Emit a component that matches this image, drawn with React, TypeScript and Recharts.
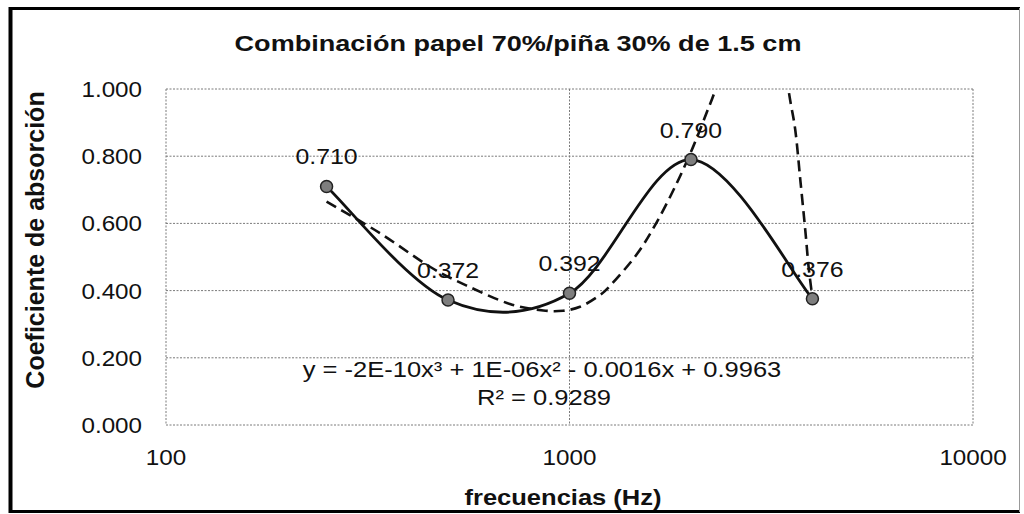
import React from 'react';
import { LineChart, Line, XAxis, YAxis, CartesianGrid } from 'recharts';

// medidas
const frecuencias = [250, 500, 1000, 2000, 4000];
const absorcion = [0.71, 0.372, 0.392, 0.79, 0.376];

// linea de tendencia (se corta arriba de 1.0)
const tendFrecuencias = [250, 339, 451, 556, 712, 861, 964, 1062, 1168, 1260, 1468, 1646, 1845, 2028, 2188, 2317, 2600, 2900, 3250, 3490, 3627, 3733, 3840, 3913, 4000];
const tendValores = [0.665, 0.571, 0.471, 0.415, 0.36, 0.341, 0.34, 0.352, 0.38, 0.414, 0.508, 0.604, 0.72, 0.83, 0.93, 1.01, 1.2, 1.35, 1.25, 0.997, 0.878, 0.729, 0.58, 0.471, 0.378];

const xTicks = [100, 1000, 10000];
const yTicks = [0, 0.2, 0.4, 0.6, 0.8, 1];

const titulo = 'Combinación papel 70%/piña 30% de 1.5 cm';
const ecuacion = 'y = -2E-10x³ + 1E-06x² - 0.0016x + 0.9963';
const r2 = 'R² = 0.9289';

const medidos = frecuencias.map((f, i) => ({ f, v: absorcion[i] }));
const tendencia = tendFrecuencias.map((f, i) => ({ f, v: tendValores[i] }));

const FONT = '"Liberation Sans", Arial, Helvetica, sans-serif';

// suavizado tipo Excel (Catmull-Rom)
const excelSmooth = (context: any) => {
    let pts: number[][] = [];
    return {
        areaStart() {},
        areaEnd() {},
        lineStart() { pts = []; },
        point(x: number, y: number) { pts.push([+x, +y]); },
        lineEnd() {
            if (!pts.length) return;
            context.moveTo(pts[0][0], pts[0][1]);
            for (let i = 0; i < pts.length - 1; i++) {
                const p0 = pts[Math.max(i - 1, 0)];
                const p1 = pts[i];
                const p2 = pts[i + 1];
                const p3 = pts[Math.min(i + 2, pts.length - 1)];
                context.bezierCurveTo(
                    p1[0] + (p2[0] - p0[0]) / 6, p1[1] + (p2[1] - p0[1]) / 6,
                    p2[0] - (p3[0] - p1[0]) / 6, p2[1] - (p3[1] - p1[1]) / 6,
                    p2[0], p2[1]
                );
            }
        },
    };
};

const Txt = ({ x, y, anchor = 'middle', size = 22, bold = false, sx = 1.13, children }: any) => (
    <text
        transform={`translate(${x},${y}) scale(${sx},1)`}
        textAnchor={anchor}
        fontFamily={FONT}
        fontSize={size}
        fontWeight={bold ? 'bold' : 'normal'}
        fill="#111"
    >
        {children}
    </text>
);

const YTick = ({ y, payload }: any) => (
    <Txt x={142} y={y + 8} anchor="end" sx={1.1}>{Number(payload.value).toFixed(3)}</Txt>
);

const XTick = ({ x, payload }: any) => (
    <Txt x={x} y={465} sx={1.1}>{payload.value}</Txt>
);

const ValueLabel = (p: any) => (
    <Txt key={`l${p.index}`} x={p.x} y={p.y - 22}>{Number(p.value).toFixed(3)}</Txt>
);

const App: React.FC = () => {
    return (
        <div style={{ position: 'absolute', left: 0, top: 0, width: 1024, height: 514, background: '#fff' }}>
            <LineChart width={1024} height={514} margin={{ top: 89, right: 51, bottom: 29, left: 0 }}>
                <CartesianGrid stroke="#7a7a7a" strokeDasharray="2 1.5" horizontalValues={yTicks} verticalValues={xTicks} />
                <XAxis
                    type="number"
                    dataKey="f"
                    scale="log"
                    domain={[100, 10000]}
                    ticks={xTicks}
                    allowDataOverflow
                    axisLine={false}
                    tickLine={false}
                    height={60}
                    tick={<XTick />}
                    interval={0}
                />
                <YAxis
                    type="number"
                    domain={[0, 1]}
                    ticks={yTicks}
                    allowDataOverflow
                    axisLine={false}
                    tickLine={false}
                    width={166}
                    tick={<YTick />}
                    interval={0}
                />
                <Line
                    data={tendencia}
                    dataKey="v"
                    type={excelSmooth as any}
                    stroke="#111"
                    strokeWidth={2.6}
                    strokeDasharray="11 6"
                    dot={false}
                    isAnimationActive={false}
                />
                <Line
                    data={medidos}
                    dataKey="v"
                    type={excelSmooth as any}
                    stroke="#111"
                    strokeWidth={2.8}
                    dot={{ r: 6, fill: '#7e7e7e', stroke: '#222', strokeWidth: 1.5 }}
                    label={ValueLabel}
                    isAnimationActive={false}
                />
            </LineChart>
            <svg width={1024} height={514} style={{ position: 'absolute', left: 0, top: 0, pointerEvents: 'none' }}>
                <line x1={10.5} y1={7} x2={10.5} y2={513} stroke="#000" strokeWidth={4} />
                <line x1={9} y1={8.5} x2={1020} y2={8.5} stroke="#000" strokeWidth={3} />
                <line x1={9} y1={511.5} x2={1020} y2={511.5} stroke="#000" strokeWidth={3} />
                <line x1={1019.5} y1={8} x2={1019.5} y2={512} stroke="#999" strokeWidth={1} />
                <Txt x={518} y={51} bold sx={1.23}>{titulo}</Txt>
                <Txt x={563} y={505} bold sx={1.16}>frecuencias (Hz)</Txt>
                <text
                    transform="translate(44,240) rotate(-90)"
                    textAnchor="middle"
                    fontFamily={FONT}
                    fontSize={25}
                    fontWeight="bold"
                    fill="#111"
                >
                    Coeficiente de absorción
                </text>
                <Txt x={542} y={377} sx={1.16}>{ecuacion}</Txt>
                <Txt x={544} y={405} sx={1.16}>{r2}</Txt>
            </svg>
        </div>
    );
};

export default App;
